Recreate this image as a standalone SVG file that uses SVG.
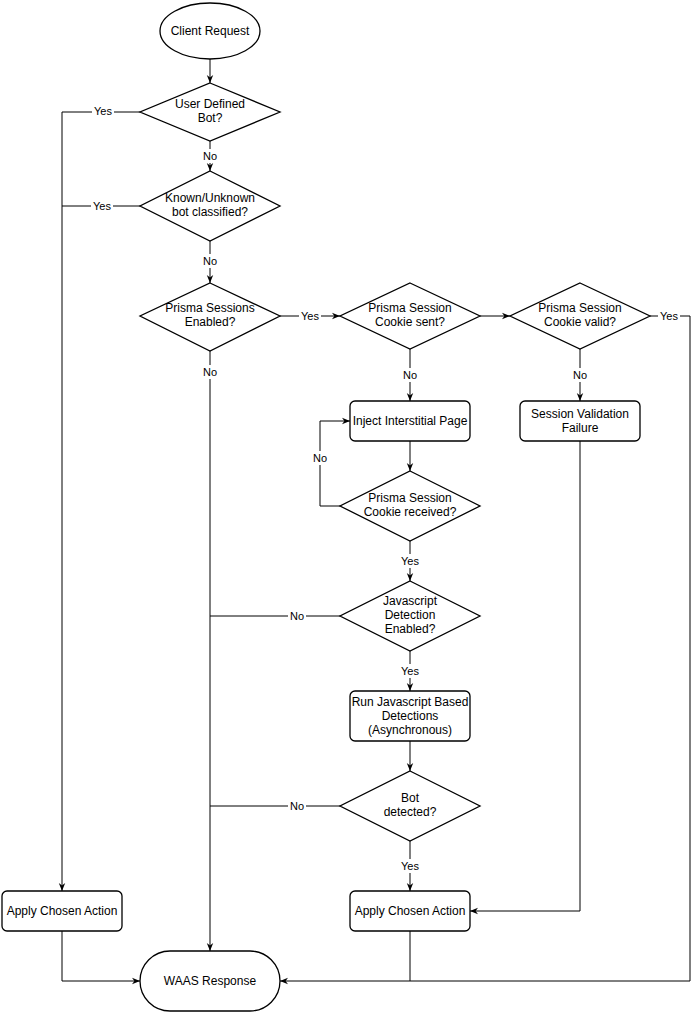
<svg xmlns="http://www.w3.org/2000/svg" width="699" height="1012" viewBox="0 0 699 1012">
<style>
.n{fill:#fff;stroke:#000;stroke-width:1.3}
.t{font-family:"Liberation Sans",Arial,sans-serif;font-size:12px;fill:#000;text-anchor:middle}
.c{fill:none;stroke:#000;stroke-width:1}
.l{font-family:"Liberation Sans",Arial,sans-serif;font-size:11px;fill:#000;text-anchor:middle}
.lb{fill:#fff}
</style>
<defs><marker id="a" viewBox="0 0 10 10" refX="10" refY="5" markerWidth="8" markerHeight="8" orient="auto"><path d="M0,1 L10,5 L0,9 L3,5 Z" fill="#000"/></marker></defs>
<rect width="699" height="1012" fill="#fff"/>
<g id="connectors">
<path class="c" d="M210,59 V83" marker-end="url(#a)"/>
<path class="c" d="M210,141 V171" marker-end="url(#a)"/>
<path class="c" d="M210,241 V283" marker-end="url(#a)"/>
<path class="c" d="M280,316 H340" marker-end="url(#a)"/>
<path class="c" d="M480,316 H510" marker-end="url(#a)"/>
<path class="c" d="M650,316 H690 V981 H280" marker-end="url(#a)"/>
<path class="c" d="M410,349 V401" marker-end="url(#a)"/>
<path class="c" d="M410,441 V471" marker-end="url(#a)"/>
<path class="c" d="M340,506 H320 V421 H350" marker-end="url(#a)"/>
<path class="c" d="M410,541 V581" marker-end="url(#a)"/>
<path class="c" d="M340,616 H210"/>
<path class="c" d="M410,651 V691" marker-end="url(#a)"/>
<path class="c" d="M410,741 V771" marker-end="url(#a)"/>
<path class="c" d="M340,806 H210"/>
<path class="c" d="M410,841 V891" marker-end="url(#a)"/>
<path class="c" d="M580,349 V401" marker-end="url(#a)"/>
<path class="c" d="M580,441 V911 H470" marker-end="url(#a)"/>
<path class="c" d="M140,112 H62 V891" marker-end="url(#a)"/>
<path class="c" d="M140,206 H62"/>
<path class="c" d="M62,931 V981 H140" marker-end="url(#a)"/>
<path class="c" d="M210,351 V951" marker-end="url(#a)"/>
<path class="c" d="M410,931 V981"/>
<g>
<rect class="lb" x="92" y="104" width="22" height="14"/><text class="l" x="103" y="115">Yes</text>
<rect class="lb" x="91" y="199" width="22" height="14"/><text class="l" x="102" y="210">Yes</text>
<rect class="lb" x="201" y="149" width="18" height="14"/><text class="l" x="210" y="160">No</text>
<rect class="lb" x="201" y="254" width="18" height="14"/><text class="l" x="210" y="265">No</text>
<rect class="lb" x="201" y="365" width="18" height="14"/><text class="l" x="210" y="376">No</text>
<rect class="lb" x="299" y="309" width="22" height="14"/><text class="l" x="310" y="320">Yes</text>
<rect class="lb" x="658" y="309" width="22" height="14"/><text class="l" x="669" y="320">Yes</text>
<rect class="lb" x="401" y="368" width="18" height="14"/><text class="l" x="410" y="379">No</text>
<rect class="lb" x="571" y="368" width="18" height="14"/><text class="l" x="580" y="379">No</text>
<rect class="lb" x="311" y="451" width="18" height="14"/><text class="l" x="320" y="462">No</text>
<rect class="lb" x="399" y="554" width="22" height="14"/><text class="l" x="410" y="565">Yes</text>
<rect class="lb" x="288" y="609" width="18" height="14"/><text class="l" x="297" y="620">No</text>
<rect class="lb" x="399" y="664" width="22" height="14"/><text class="l" x="410" y="675">Yes</text>
<rect class="lb" x="288" y="799" width="18" height="14"/><text class="l" x="297" y="810">No</text>
<rect class="lb" x="399" y="859" width="22" height="14"/><text class="l" x="410" y="870">Yes</text>
</g>
</g>
<g id="client"><ellipse class="n" cx="210" cy="31" rx="50" ry="28"/><text class="t" x="210" y="35">Client Request</text></g>
<g id="d1"><path class="n" d="M210,83 L280,112 L210,141 L140,112 Z"/><text class="t" x="210" y="108">User Defined</text><text class="t" x="210" y="122">Bot?</text></g>
<g id="d2"><path class="n" d="M210,171 L280,206 L210,241 L140,206 Z"/><text class="t" x="210" y="202">Known/Unknown</text><text class="t" x="210" y="216">bot classified?</text></g>
<g id="d3"><path class="n" d="M210,283 L280,316 L210,351 L140,316 Z"/><text class="t" x="210" y="312">Prisma Sessions</text><text class="t" x="210" y="326">Enabled?</text></g>
<g id="d4"><path class="n" d="M410,283 L480,316 L410,349 L340,316 Z"/><text class="t" x="410" y="312">Prisma Session</text><text class="t" x="410" y="326">Cookie sent?</text></g>
<g id="d5"><path class="n" d="M580,283 L650,316 L580,349 L510,316 Z"/><text class="t" x="580" y="312">Prisma Session</text><text class="t" x="580" y="326">Cookie valid?</text></g>
<g id="inject"><rect class="n" x="350" y="401" width="120" height="40" rx="5"/><text class="t" x="410" y="425">Inject Interstitial Page</text></g>
<g id="svf"><rect class="n" x="520" y="401" width="120" height="40" rx="5"/><text class="t" x="580" y="418">Session Validation</text><text class="t" x="580" y="432">Failure</text></g>
<g id="d6"><path class="n" d="M410,471 L480,506 L410,541 L340,506 Z"/><text class="t" x="410" y="502">Prisma Session</text><text class="t" x="410" y="516">Cookie received?</text></g>
<g id="d7"><path class="n" d="M410,581 L480,616 L410,651 L340,616 Z"/><text class="t" x="410" y="605">Javascript</text><text class="t" x="410" y="619">Detection</text><text class="t" x="410" y="633">Enabled?</text></g>
<g id="runjs"><rect class="n" x="350" y="691" width="120" height="50" rx="5"/><text class="t" x="410" y="706">Run Javascript Based</text><text class="t" x="410" y="720">Detections</text><text class="t" x="410" y="734">(Asynchronous)</text></g>
<g id="d8"><path class="n" d="M410,771 L480,806 L410,841 L340,806 Z"/><text class="t" x="410" y="802">Bot</text><text class="t" x="410" y="816">detected?</text></g>
<g id="apply2"><rect class="n" x="350" y="891" width="120" height="40" rx="5"/><text class="t" x="410" y="915">Apply Chosen Action</text></g>
<g id="apply1"><rect class="n" x="2" y="891" width="120" height="40" rx="5"/><text class="t" x="62" y="915">Apply Chosen Action</text></g>
<g id="waas"><rect class="n" x="140" y="951" width="140" height="60" rx="30"/><text class="t" x="210" y="985">WAAS Response</text></g>
</svg>
